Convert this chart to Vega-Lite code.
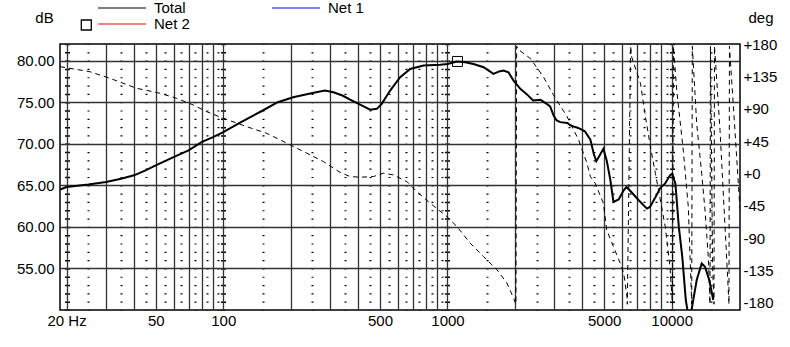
{
  "$schema": "https://vega.github.io/schema/vega-lite/v6.json",
  "width": 680,
  "height": 266,
  "autosize": {"type": "none"},
  "padding": {"left": 60, "top": 44, "right": 50, "bottom": 37},
  "background": "white",
  "datasets": {
    "mag": [
      {"f": 18.7, "db": 64.5}, {"f": 20, "db": 64.8}, {"f": 25, "db": 65.1}, {"f": 30, "db": 65.4}, {"f": 35, "db": 65.8},
      {"f": 40, "db": 66.2}, {"f": 45, "db": 66.8}, {"f": 50, "db": 67.4}, {"f": 60, "db": 68.4}, {"f": 70, "db": 69.2},
      {"f": 80, "db": 70.2}, {"f": 90, "db": 70.8}, {"f": 100, "db": 71.4}, {"f": 120, "db": 72.6}, {"f": 150, "db": 74.0},
      {"f": 175, "db": 75.0}, {"f": 205, "db": 75.6}, {"f": 250, "db": 76.1}, {"f": 284, "db": 76.4}, {"f": 310, "db": 76.2},
      {"f": 340, "db": 75.8}, {"f": 368, "db": 75.3}, {"f": 408, "db": 74.7}, {"f": 452, "db": 74.1}, {"f": 484, "db": 74.2},
      {"f": 509, "db": 74.8}, {"f": 555, "db": 76.4}, {"f": 615, "db": 78.0}, {"f": 682, "db": 79.0}, {"f": 782, "db": 79.4},
      {"f": 928, "db": 79.5}, {"f": 1000, "db": 79.6}, {"f": 1102, "db": 79.9}, {"f": 1200, "db": 79.8}, {"f": 1306, "db": 79.6},
      {"f": 1449, "db": 79.2}, {"f": 1604, "db": 78.4}, {"f": 1700, "db": 78.7}, {"f": 1778, "db": 78.8}, {"f": 1870, "db": 78.6},
      {"f": 1972, "db": 77.6}, {"f": 2113, "db": 76.6}, {"f": 2250, "db": 76.0}, {"f": 2410, "db": 75.2}, {"f": 2600, "db": 75.3},
      {"f": 2770, "db": 74.8}, {"f": 2870, "db": 74.5}, {"f": 2974, "db": 73.4}, {"f": 3070, "db": 72.8}, {"f": 3185, "db": 72.6},
      {"f": 3430, "db": 72.5}, {"f": 3531, "db": 72.2}, {"f": 3830, "db": 71.9}, {"f": 4100, "db": 71.5}, {"f": 4339, "db": 70.5},
      {"f": 4490, "db": 68.8}, {"f": 4610, "db": 67.9}, {"f": 4770, "db": 68.6}, {"f": 4960, "db": 69.4}, {"f": 5130, "db": 68.0},
      {"f": 5330, "db": 65.6}, {"f": 5500, "db": 63.0}, {"f": 5800, "db": 63.3}, {"f": 6110, "db": 64.4}, {"f": 6290, "db": 64.8},
      {"f": 6650, "db": 64.1}, {"f": 7130, "db": 63.2}, {"f": 7750, "db": 62.2}, {"f": 8000, "db": 62.4}, {"f": 8400, "db": 63.4},
      {"f": 8900, "db": 64.7}, {"f": 9333, "db": 65.2}, {"f": 9826, "db": 66.2}, {"f": 10040, "db": 66.4}, {"f": 10390, "db": 65.2},
      {"f": 10760, "db": 60.0}, {"f": 11150, "db": 56.4}, {"f": 11560, "db": 51.2}, {"f": 12000, "db": 48.5}, {"f": 12480, "db": 51.2},
      {"f": 12930, "db": 53.6}, {"f": 13610, "db": 55.6}, {"f": 14080, "db": 55.2}, {"f": 14710, "db": 53.6}, {"f": 15330, "db": 51.2}
    ],
    "phase": [
      {"f": 18.7, "deg": 148.5}, {"f": 25.4, "deg": 141.5}, {"f": 31.2, "deg": 132.3}, {"f": 41.1, "deg": 118.4}, {"f": 52.2, "deg": 111.5},
      {"f": 61.9, "deg": 104.5}, {"f": 73.5, "deg": 95.2}, {"f": 84.3, "deg": 85.9}, {"f": 100, "deg": 76.7}, {"f": 127, "deg": 65.1},
      {"f": 156, "deg": 55.9}, {"f": 199, "deg": 39.6}, {"f": 236, "deg": 28.1}, {"f": 280, "deg": 16.4}, {"f": 332, "deg": 1.4},
      {"f": 368, "deg": -4.4}, {"f": 408, "deg": -5.3}, {"f": 467, "deg": -4.4}, {"f": 518, "deg": 0.3}, {"f": 574, "deg": -2.1},
      {"f": 659, "deg": -11.4}, {"f": 730, "deg": -25.3}, {"f": 837, "deg": -41.4}, {"f": 993, "deg": -60}, {"f": 1102, "deg": -73.9},
      {"f": 1263, "deg": -97}, {"f": 1449, "deg": -115.7}, {"f": 1663, "deg": -134.1}, {"f": 1842, "deg": -152.6}, {"f": 1972, "deg": -173.5},
      {"f": 2020, "deg": -182}, {"f": 2035, "deg": 177}, {"f": 2077, "deg": 172}, {"f": 2340, "deg": 160}, {"f": 2674, "deg": 134.7},
      {"f": 2966, "deg": 109.4}, {"f": 3415, "deg": 79}, {"f": 3846, "deg": 46.6}, {"f": 4190, "deg": 14.2}, {"f": 4340, "deg": -4.6},
      {"f": 4560, "deg": -13.8}, {"f": 4960, "deg": -41.6}, {"f": 5130, "deg": -78.7}, {"f": 5500, "deg": -102}, {"f": 5900, "deg": -125},
      {"f": 6110, "deg": -139}, {"f": 6320, "deg": -171.5}, {"f": 6340, "deg": -182}, {"f": 6560, "deg": 177}, {"f": 6630, "deg": 162},
      {"f": 7260, "deg": 125}, {"f": 7640, "deg": 78.6}, {"f": 8040, "deg": 37}, {"f": 8460, "deg": 0}, {"f": 8900, "deg": -37},
      {"f": 9360, "deg": -74}, {"f": 9826, "deg": -130}, {"f": 10083, "deg": -182}, {"f": 10185, "deg": 177}, {"f": 10527, "deg": 116},
      {"f": 11265, "deg": 32}, {"f": 11858, "deg": -46}, {"f": 12284, "deg": -182}, {"f": 12360, "deg": 177}, {"f": 12930, "deg": 69},
      {"f": 13610, "deg": 0}, {"f": 14080, "deg": -51}, {"f": 14590, "deg": -120}, {"f": 14820, "deg": -182}, {"f": 14890, "deg": 177},
      {"f": 15230, "deg": -130}, {"f": 15440, "deg": -182}, {"f": 15520, "deg": 177}, {"f": 16430, "deg": 60}, {"f": 17470, "deg": -100},
      {"f": 18010, "deg": -182}, {"f": 18100, "deg": 177}, {"f": 19150, "deg": 60}, {"f": 20170, "deg": -50}
    ],
    "marker": [{"f": 1108, "db": 79.9}]
  },
  "layer": [
    {
      "data": {"name": "phase"},
      "mark": {"type": "line", "color": "black", "strokeWidth": 1, "strokeDash": [5, 4], "clip": true},
      "encoding": {
        "x": {
          "field": "f", "type": "quantitative",
          "scale": {"type": "log", "domain": [18.7, 20170], "nice": false},
          "axis": {
            "orient": "bottom", "values": [20, 100, 1000, 10000], "grid": true, "gridColor": "black",
            "gridWidth": 5, "gridDash": [1.5, 6.8125], "gridDashOffset": 0.75,
            "labels": false, "ticks": false, "domain": false, "title": null
          }
        },
        "y": {
          "field": "deg", "type": "quantitative",
          "scale": {"domain": [-190, 180], "nice": false, "zero": false},
          "axis": {
            "orient": "right", "values": [-180, -135, -90, -45, 0, 45, 90, 135, 180],
            "grid": false, "ticks": false, "domain": false, "labelPadding": 3,
            "labelExpr": "datum.value >= 0 ? '+' + datum.value : '' + datum.value",
            "title": "deg", "titleAngle": 0, "titleX": 20.5, "titleY": -27,
            "titleAlign": "center", "titleBaseline": "middle"
          }
        }
      }
    },
    {
      "data": {"name": "mag"},
      "mark": {"type": "line", "strokeWidth": 2, "clip": true},
      "encoding": {
        "x": {
          "field": "f", "type": "quantitative",
          "scale": {"type": "log", "domain": [18.7, 20170], "nice": false},
          "axis": {
            "orient": "bottom",
            "values": [20, 25, 30, 35, 40, 45, 50, 55, 60, 65, 70, 75, 80, 85, 90, 95, 100, 150, 200, 250, 300, 350, 400, 450, 500, 550, 600, 650, 700, 750, 800, 850, 900, 950, 1000, 1500, 2000, 2500, 3000, 3500, 4000, 4500, 5000, 5500, 6000, 6500, 7000, 7500, 8000, 8500, 9000, 9500, 10000, 15000],
            "grid": true,
            "gridColor": {"condition": {"test": "(datum.value / pow(10, floor(log(datum.value) / LN10 + 1e-9))) % 1 > 0.25", "value": "black"}, "value": "#333333"},
            "gridWidth": {"condition": {"test": "(datum.value / pow(10, floor(log(datum.value) / LN10 + 1e-9))) % 1 > 0.25", "value": 2}, "value": 1.3},
            "gridDash": {"condition": {"test": "(datum.value / pow(10, floor(log(datum.value) / LN10 + 1e-9))) % 1 > 0.25", "value": [1.2, 7.1125]}, "value": []},
            "gridDashOffset": 0.6,
            "ticks": false, "domain": false, "labelPadding": 3, "labelFlush": false, "labelOverlap": false, "labelBound": false,
            "labelExpr": "datum.value == 20 ? '20 Hz' : (indexof([50, 100, 500, 1000, 5000, 10000], datum.value) >= 0 ? '' + datum.value : '')",
            "title": null
          }
        },
        "y": {
          "field": "db", "type": "quantitative",
          "scale": {"domain": [50, 82], "nice": false, "zero": false},
          "axis": {
            "orient": "left", "values": [55, 60, 65, 70, 75, 80], "format": ".2f",
            "grid": true, "gridColor": "#333333", "gridWidth": 1.3,
            "ticks": false, "domain": false, "labelPadding": 6,
            "title": "dB", "titleAngle": 0, "titleX": -16, "titleY": -27,
            "titleAlign": "center", "titleBaseline": "middle"
          }
        },
        "color": {
          "datum": "Total", "type": "nominal",
          "scale": {"domain": ["Total", "Net 2", "Net 1"], "range": ["black", "#ff0000", "#0000ff"]},
          "legend": {
            "orient": "none", "legendX": 37, "legendY": -44, "columns": 2, "columnPadding": 81, "rowPadding": 0,
            "symbolType": "M-1,0H1M-1.79,-0.19H-1.375L-1.583,0.19Z", "symbolSize": 2304, "symbolStrokeWidth": 1.2, "clipHeight": 16,
            "labelOffset": 7, "labelFontSize": 15, "labelColor": "black", "labelLimit": 100, "title": null, "padding": 0,
            "encode": {
              "symbols": {
                "enter": {
                  "shape": {"signal": "datum.value == 'Net 1' ? 'M-1,0H1M-1.79,-0.19H-1.375L-1.583,0.19Z' : 'stroke'"}
                },
                "update": {
                  "shape": {"signal": "datum.value == 'Net 1' ? 'M-1,0H1M-1.79,-0.19H-1.375L-1.583,0.19Z' : 'stroke'"}
                }
              }
            }
          }
        }
      }
    },
    {
      "data": {"name": "marker"},
      "mark": {"type": "point", "size": 100, "filled": false, "stroke": "black", "strokeWidth": 1, "opacity": 1},
      "encoding": {
        "x": {"field": "f", "type": "quantitative", "scale": {"type": "log", "domain": [18.7, 20170], "nice": false}, "axis": null},
        "y": {"field": "db", "type": "quantitative", "scale": {"domain": [50, 82], "nice": false, "zero": false}, "axis": null},
        "shape": {
          "datum": "Net 2", "type": "nominal",
          "scale": {"domain": ["Net 2"], "range": ["square"]},
          "legend": {
            "orient": "none", "legendX": 20.3, "legendY": -25, "title": null, "padding": 0,
            "symbolSize": 100, "symbolStrokeColor": "black", "symbolFillColor": "transparent", "symbolStrokeWidth": 1.3,
            "labelExpr": "''", "labelOffset": 0
          }
        }
      }
    }
  ],
  "resolve": {"scale": {"y": "independent"}, "axis": {"x": "independent", "y": "independent"}},
  "config": {
    "font": "Liberation Sans",
    "view": {"stroke": "black", "strokeWidth": 1.5},
    "axis": {
      "labelFont": "Liberation Sans", "labelFontSize": 15, "labelColor": "black",
      "titleFont": "Liberation Sans", "titleFontSize": 15, "titleFontWeight": "normal", "titleColor": "black"
    },
    "legend": {"labelFont": "Liberation Sans"}
  }
}
